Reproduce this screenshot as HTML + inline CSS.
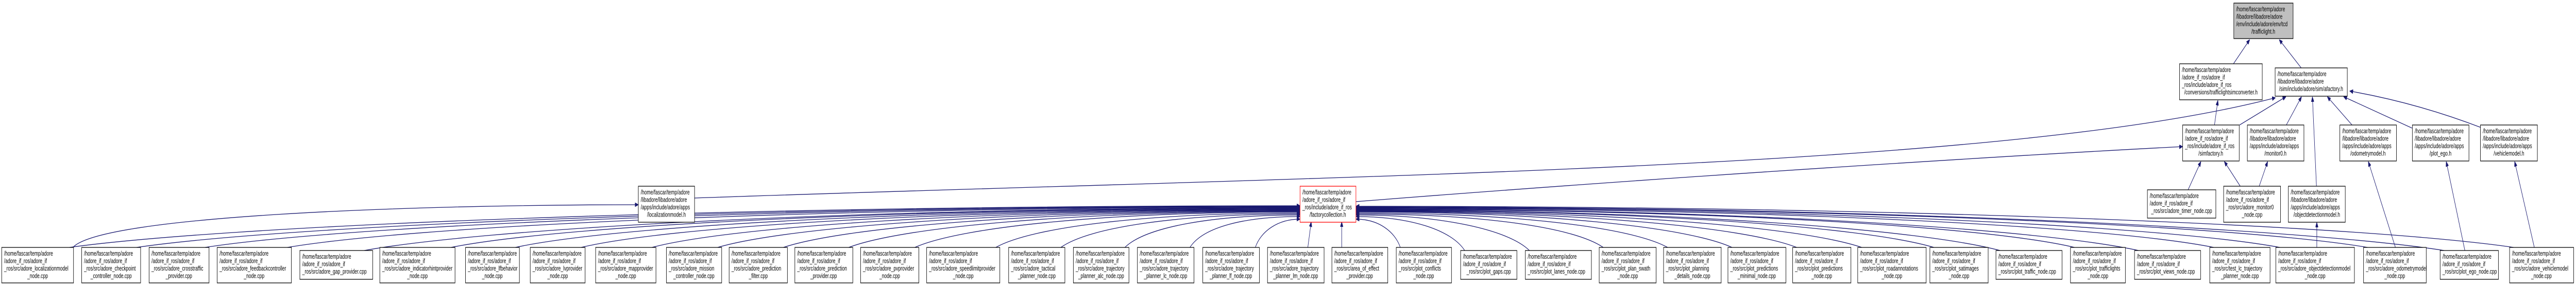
<!DOCTYPE html>
<html><head><meta charset="utf-8"><style>
html,body{margin:0;padding:0;background:#fff;overflow:hidden;width:100%;height:100%;}
svg{display:block;width:100vw;height:100vh;}
text{font-family:"Liberation Sans",Arial,sans-serif;font-size:13px;fill:#000;}
.b{fill:#fff;stroke:#000;stroke-width:1.3;}
.e{fill:none;stroke:#191970;stroke-width:1.3;}
</style></head><body>
<svg viewBox="0 0 7603 556" preserveAspectRatio="none" xmlns="http://www.w3.org/2000/svg">
<defs><marker id="a" viewBox="0 0 10 8" refX="10" refY="4" markerWidth="10" markerHeight="8" markerUnits="userSpaceOnUse" orient="auto"><path d="M0,0 L10,4 L0,8 z" fill="#191970" stroke="#191970"/></marker></defs>
<g class="e" marker-end="url(#a)">
<path d="M205,481 C641,441 2021,400 3837,400"/>
<path d="M403,481 C815,441 2120,401 3837,401"/>
<path d="M605,481 C993,441 2221,402 3837,402"/>
<path d="M848,481 C1207,441 2343,403 3837,403"/>
<path d="M1075,487 C1406,447 2456,404 3837,404"/>
<path d="M1331,481 C1632,441 2584,405 3837,405"/>
<path d="M1521,481 C1799,441 2679,406 3837,406"/>
<path d="M1715,481 C1970,441 2776,407 3837,407"/>
<path d="M1924,481 C2154,441 2880,408 3837,408"/>
<path d="M2118,481 C2324,441 2978,409 3837,409"/>
<path d="M2312,481 C2495,441 3075,410 3837,410"/>
<path d="M2505,481 C2665,441 3171,411 3837,411"/>
<path d="M2700,481 C2836,441 3269,412 3837,412"/>
<path d="M2939,481 C3047,441 3388,414 3837,414"/>
<path d="M3131,481 C3216,441 3484,416 3837,416"/>
<path d="M3320,481 C3382,441 3579,418 3837,418"/>
<path d="M3512,481 C3551,441 3675,421 3837,421"/>
<path d="M3705,481 C3721,450 3771,426 3837,426"/>
<path d="M3860,481 L3870,431"/>
<path d="M3960,481 L3960,431"/>
<path d="M4133,481 C4117,450 4068,426 4002,426"/>
<path d="M4323,487 C4284,447 4162,421 4002,421"/>
<path d="M4514,487 C4453,447 4258,418 4002,418"/>
<path d="M4732,481 C4644,441 4367,416 4002,416"/>
<path d="M4922,481 C4812,441 4462,414 4002,414"/>
<path d="M5112,481 C4979,441 4557,412 4002,412"/>
<path d="M5303,481 C5147,441 4652,411 4002,411"/>
<path d="M5495,481 C5316,441 4748,410 4002,410"/>
<path d="M5708,481 C5503,441 4855,409 4002,409"/>
<path d="M5903,487 C5675,447 4952,408 4002,408"/>
<path d="M6123,481 C5868,441 5062,407 4002,407"/>
<path d="M6312,487 C6035,447 5157,406 4002,406"/>
<path d="M6534,481 C6230,441 5268,405 4002,405"/>
<path d="M6729,481 C6402,441 5365,404 4002,404"/>
<path d="M6988,481 C6630,441 5495,403 4002,403"/>
<path d="M7214,487 C6829,447 5608,402 4002,402"/>
<path d="M7419,481 C7009,441 5710,401 4002,401"/>
<path d="M215,481 C300,420 1200,398 1884,398"/>
<path d="M2050,385 C4000,340 5900,330 6716,190"/>
<path d="M4002,392 C5000,340 6000,300 6442,285"/>
<path d="M6592,124 L6640,77"/>
<path d="M6792,132 L6727,77"/>
<path d="M6536,243 L6546,195"/>
<path d="M6610,243 L6747,188"/>
<path d="M6748,243 L6793,188"/>
<path d="M6837,362 L6825,188"/>
<path d="M6942,243 L6869,188"/>
<path d="M7119,249 L6917,188"/>
<path d="M7323,248 Q7133,200 6935,177"/>
<path d="M6458,369 L6496,314"/>
<path d="M6612,362 L6565,314"/>
<path d="M6668,362 L6693,314"/>
<path d="M6838,481 L6838,432"/>
<path d="M7070,481 L6990,314"/>
<path d="M7275,487 L7220,314"/>
<path d="M7480,481 L7422,314"/>
</g>

<rect x="6593" y="6" width="175" height="69" style="fill:#bfbfbf;stroke:#000;stroke-width:1.3"/>
<text x="6600" y="22">/home/fascar/temp/adore</text><text x="6600" y="36.5">/libadore/libadore/adore</text><text x="6600" y="51">/env/include/adore/env/tcd</text><text x="6680" y="65.5" text-anchor="middle">/trafficlight.h</text>

<rect class="b" x="6433" y="124" width="244" height="70"/>
<text x="6440" y="140">/home/fascar/temp/adore</text><text x="6440" y="154.5">/adore_if_ros/adore_if</text><text x="6440" y="169">_ros/include/adore_if_ros</text><text x="6555" y="183.5" text-anchor="middle">/conversions/trafficlightsimconverter.h</text>

<rect class="b" x="6715" y="132" width="213" height="55"/>
<text x="6722" y="148">/home/fascar/temp/adore</text><text x="6722" y="162.5">/libadore/libadore/adore</text><text x="6821" y="177" text-anchor="middle">/sim/include/adore/sim/afactory.h</text>

<rect class="b" x="6442" y="243" width="167" height="70"/>
<text x="6449" y="259">/home/fascar/temp/adore</text><text x="6449" y="273.5">/adore_if_ros/adore_if</text><text x="6449" y="288">_ros/include/adore_if_ros</text><text x="6525" y="302.5" text-anchor="middle">/simfactory.h</text>

<rect class="b" x="6633" y="243" width="167" height="70"/>
<text x="6640" y="259">/home/fascar/temp/adore</text><text x="6640" y="273.5">/libadore/libadore/adore</text><text x="6640" y="288">/apps/include/adore/apps</text><text x="6716" y="302.5" text-anchor="middle">/monitor0.h</text>

<rect class="b" x="6906" y="243" width="167" height="70"/>
<text x="6913" y="259">/home/fascar/temp/adore</text><text x="6913" y="273.5">/libadore/libadore/adore</text><text x="6913" y="288">/apps/include/adore/apps</text><text x="6989" y="302.5" text-anchor="middle">/odometrymodel.h</text>

<rect class="b" x="7120" y="243" width="167" height="70"/>
<text x="7127" y="259">/home/fascar/temp/adore</text><text x="7127" y="273.5">/libadore/libadore/adore</text><text x="7127" y="288">/apps/include/adore/apps</text><text x="7203" y="302.5" text-anchor="middle">/plot_ego.h</text>

<rect class="b" x="7321" y="243" width="168" height="70"/>
<text x="7328" y="259">/home/fascar/temp/adore</text><text x="7328" y="273.5">/libadore/libadore/adore</text><text x="7328" y="288">/apps/include/adore/apps</text><text x="7405" y="302.5" text-anchor="middle">/vehiclemodel.h</text>

<rect class="b" x="6338" y="369" width="202" height="55"/>
<text x="6345" y="385">/home/fascar/temp/adore</text><text x="6345" y="399.5">/adore_if_ros/adore_if</text><text x="6439" y="414" text-anchor="middle">_ros/src/adore_timer_node.cpp</text>

<rect class="b" x="6563" y="362" width="168" height="70"/>
<text x="6570" y="378">/home/fascar/temp/adore</text><text x="6570" y="392.5">/adore_if_ros/adore_if</text><text x="6570" y="407">_ros/src/adore_monitor0</text><text x="6647" y="421.5" text-anchor="middle">_node.cpp</text>

<rect class="b" x="6754" y="362" width="168" height="70"/>
<text x="6761" y="378">/home/fascar/temp/adore</text><text x="6761" y="392.5">/libadore/libadore/adore</text><text x="6761" y="407">/apps/include/adore/apps</text><text x="6838" y="421.5" text-anchor="middle">/objectdetectionmodel.h</text>

<rect class="b" x="1884" y="362" width="166" height="70"/>
<text x="1891" y="378">/home/fascar/temp/adore</text><text x="1891" y="392.5">/libadore/libadore/adore</text><text x="1891" y="407">/apps/include/adore/apps</text><text x="1967" y="421.5" text-anchor="middle">/localizationmodel.h</text>

<rect x="3837" y="362" width="165" height="70" style="fill:#fff;stroke:#ff0000;stroke-width:1.3"/>
<text x="3844" y="378">/home/fascar/temp/adore</text><text x="3844" y="392.5">/adore_if_ros/adore_if</text><text x="3844" y="407">_ros/include/adore_if_ros</text><text x="3919" y="421.5" text-anchor="middle">/factorycollection.h</text>

<g>
<rect class="b" x="5" y="481" width="212" height="69"/><text x="12" y="497">/home/fascar/temp/adore</text><text x="12" y="511.5">/adore_if_ros/adore_if</text><text x="12" y="526">_ros/src/adore_localizationmodel</text><text x="111" y="540.5" text-anchor="middle">_node.cpp</text>
<rect class="b" x="241" y="481" width="174" height="69"/><text x="248" y="497">/home/fascar/temp/adore</text><text x="248" y="511.5">/adore_if_ros/adore_if</text><text x="248" y="526">_ros/src/adore_checkpoint</text><text x="328" y="540.5" text-anchor="middle">_controller_node.cpp</text>
<rect class="b" x="440" y="481" width="177" height="69"/><text x="447" y="497">/home/fascar/temp/adore</text><text x="447" y="511.5">/adore_if_ros/adore_if</text><text x="447" y="526">_ros/src/adore_crosstraffic</text><text x="528" y="540.5" text-anchor="middle">_provider.cpp</text>
<rect class="b" x="641" y="481" width="219" height="69"/><text x="648" y="497">/home/fascar/temp/adore</text><text x="648" y="511.5">/adore_if_ros/adore_if</text><text x="648" y="526">_ros/src/adore_feedbackcontroller</text><text x="750" y="540.5" text-anchor="middle">_node.cpp</text>
<rect class="b" x="885" y="487" width="215" height="56"/><text x="892" y="503">/home/fascar/temp/adore</text><text x="892" y="517.5">/adore_if_ros/adore_if</text><text x="892" y="532">_ros/src/adore_gap_provider.cpp</text>
<rect class="b" x="1121" y="481" width="222" height="69"/><text x="1128" y="497">/home/fascar/temp/adore</text><text x="1128" y="511.5">/adore_if_ros/adore_if</text><text x="1128" y="526">_ros/src/adore_indicatorhintprovider</text><text x="1232" y="540.5" text-anchor="middle">_node.cpp</text>
<rect class="b" x="1374" y="481" width="159" height="69"/><text x="1381" y="497">/home/fascar/temp/adore</text><text x="1381" y="511.5">/adore_if_ros/adore_if</text><text x="1381" y="526">_ros/src/adore_lfbehavior</text><text x="1453" y="540.5" text-anchor="middle">_node.cpp</text>
<rect class="b" x="1565" y="481" width="162" height="69"/><text x="1572" y="497">/home/fascar/temp/adore</text><text x="1572" y="511.5">/adore_if_ros/adore_if</text><text x="1572" y="526">_ros/src/adore_lvprovider</text><text x="1646" y="540.5" text-anchor="middle">_node.cpp</text>
<rect class="b" x="1758" y="481" width="178" height="69"/><text x="1765" y="497">/home/fascar/temp/adore</text><text x="1765" y="511.5">/adore_if_ros/adore_if</text><text x="1765" y="526">_ros/src/adore_mapprovider</text><text x="1847" y="540.5" text-anchor="middle">_node.cpp</text>
<rect class="b" x="1967" y="481" width="163" height="69"/><text x="1974" y="497">/home/fascar/temp/adore</text><text x="1974" y="511.5">/adore_if_ros/adore_if</text><text x="1974" y="526">_ros/src/adore_mission</text><text x="2048" y="540.5" text-anchor="middle">_controller_node.cpp</text>
<rect class="b" x="2152" y="481" width="172" height="69"/><text x="2159" y="497">/home/fascar/temp/adore</text><text x="2159" y="511.5">/adore_if_ros/adore_if</text><text x="2159" y="526">_ros/src/adore_prediction</text><text x="2238" y="540.5" text-anchor="middle">_filter.cpp</text>
<rect class="b" x="2346" y="481" width="171" height="69"/><text x="2353" y="497">/home/fascar/temp/adore</text><text x="2353" y="511.5">/adore_if_ros/adore_if</text><text x="2353" y="526">_ros/src/adore_prediction</text><text x="2431" y="540.5" text-anchor="middle">_provider.cpp</text>
<rect class="b" x="2540" y="481" width="172" height="69"/><text x="2547" y="497">/home/fascar/temp/adore</text><text x="2547" y="511.5">/adore_if_ros/adore_if</text><text x="2547" y="526">_ros/src/adore_pvprovider</text><text x="2626" y="540.5" text-anchor="middle">_node.cpp</text>
<rect class="b" x="2735" y="481" width="216" height="69"/><text x="2742" y="497">/home/fascar/temp/adore</text><text x="2742" y="511.5">/adore_if_ros/adore_if</text><text x="2742" y="526">_ros/src/adore_speedlimitprovider</text><text x="2843" y="540.5" text-anchor="middle">_node.cpp</text>
<rect class="b" x="2977" y="481" width="166" height="69"/><text x="2984" y="497">/home/fascar/temp/adore</text><text x="2984" y="511.5">/adore_if_ros/adore_if</text><text x="2984" y="526">_ros/src/adore_tactical</text><text x="3060" y="540.5" text-anchor="middle">_planner_node.cpp</text>
<rect class="b" x="3168" y="481" width="164" height="69"/><text x="3175" y="497">/home/fascar/temp/adore</text><text x="3175" y="511.5">/adore_if_ros/adore_if</text><text x="3175" y="526">_ros/src/adore_trajectory</text><text x="3250" y="540.5" text-anchor="middle">_planner_alc_node.cpp</text>
<rect class="b" x="3357" y="481" width="167" height="69"/><text x="3364" y="497">/home/fascar/temp/adore</text><text x="3364" y="511.5">/adore_if_ros/adore_if</text><text x="3364" y="526">_ros/src/adore_trajectory</text><text x="3440" y="540.5" text-anchor="middle">_planner_lc_node.cpp</text>
<rect class="b" x="3550" y="481" width="167" height="69"/><text x="3557" y="497">/home/fascar/temp/adore</text><text x="3557" y="511.5">/adore_if_ros/adore_if</text><text x="3557" y="526">_ros/src/adore_trajectory</text><text x="3633" y="540.5" text-anchor="middle">_planner_lf_node.cpp</text>
<rect class="b" x="3741" y="481" width="167" height="69"/><text x="3748" y="497">/home/fascar/temp/adore</text><text x="3748" y="511.5">/adore_if_ros/adore_if</text><text x="3748" y="526">_ros/src/adore_trajectory</text><text x="3824" y="540.5" text-anchor="middle">_planner_lm_node.cpp</text>
<rect class="b" x="3931" y="481" width="165" height="69"/><text x="3938" y="497">/home/fascar/temp/adore</text><text x="3938" y="511.5">/adore_if_ros/adore_if</text><text x="3938" y="526">_ros/src/area_of_effect</text><text x="4013" y="540.5" text-anchor="middle">_provider.cpp</text>
<rect class="b" x="4121" y="481" width="163" height="69"/><text x="4128" y="497">/home/fascar/temp/adore</text><text x="4128" y="511.5">/adore_if_ros/adore_if</text><text x="4128" y="526">_ros/src/plot_conflicts</text><text x="4202" y="540.5" text-anchor="middle">_node.cpp</text>
<rect class="b" x="4311" y="487" width="166" height="56"/><text x="4318" y="503">/home/fascar/temp/adore</text><text x="4318" y="517.5">/adore_if_ros/adore_if</text><text x="4394" y="532" text-anchor="middle">_ros/src/plot_gaps.cpp</text>
<rect class="b" x="4502" y="487" width="195" height="56"/><text x="4509" y="503">/home/fascar/temp/adore</text><text x="4509" y="517.5">/adore_if_ros/adore_if</text><text x="4509" y="532">_ros/src/plot_lanes_node.cpp</text>
<rect class="b" x="4720" y="481" width="168" height="69"/><text x="4727" y="497">/home/fascar/temp/adore</text><text x="4727" y="511.5">/adore_if_ros/adore_if</text><text x="4727" y="526">_ros/src/plot_plan_swath</text><text x="4804" y="540.5" text-anchor="middle">_node.cpp</text>
<rect class="b" x="4910" y="481" width="170" height="69"/><text x="4917" y="497">/home/fascar/temp/adore</text><text x="4917" y="511.5">/adore_if_ros/adore_if</text><text x="4917" y="526">_ros/src/plot_planning</text><text x="4995" y="540.5" text-anchor="middle">_details_node.cpp</text>
<rect class="b" x="5100" y="481" width="171" height="69"/><text x="5107" y="497">/home/fascar/temp/adore</text><text x="5107" y="511.5">/adore_if_ros/adore_if</text><text x="5107" y="526">_ros/src/plot_predictions</text><text x="5185" y="540.5" text-anchor="middle">_minimal_node.cpp</text>
<rect class="b" x="5291" y="481" width="172" height="69"/><text x="5298" y="497">/home/fascar/temp/adore</text><text x="5298" y="511.5">/adore_if_ros/adore_if</text><text x="5298" y="526">_ros/src/plot_predictions</text><text x="5377" y="540.5" text-anchor="middle">_node.cpp</text>
<rect class="b" x="5483" y="481" width="202" height="69"/><text x="5490" y="497">/home/fascar/temp/adore</text><text x="5490" y="511.5">/adore_if_ros/adore_if</text><text x="5490" y="526">_ros/src/plot_roadannotations</text><text x="5584" y="540.5" text-anchor="middle">_node.cpp</text>
<rect class="b" x="5696" y="481" width="172" height="69"/><text x="5703" y="497">/home/fascar/temp/adore</text><text x="5703" y="511.5">/adore_if_ros/adore_if</text><text x="5703" y="526">_ros/src/plot_satimages</text><text x="5782" y="540.5" text-anchor="middle">_node.cpp</text>
<rect class="b" x="5891" y="487" width="195" height="56"/><text x="5898" y="503">/home/fascar/temp/adore</text><text x="5898" y="517.5">/adore_if_ros/adore_if</text><text x="5898" y="532">_ros/src/plot_traffic_node.cpp</text>
<rect class="b" x="6111" y="481" width="162" height="69"/><text x="6118" y="497">/home/fascar/temp/adore</text><text x="6118" y="511.5">/adore_if_ros/adore_if</text><text x="6118" y="526">_ros/src/plot_trafficlights</text><text x="6192" y="540.5" text-anchor="middle">_node.cpp</text>
<rect class="b" x="6300" y="487" width="195" height="56"/><text x="6307" y="503">/home/fascar/temp/adore</text><text x="6307" y="517.5">/adore_if_ros/adore_if</text><text x="6307" y="532">_ros/src/plot_views_node.cpp</text>
<rect class="b" x="6522" y="481" width="178" height="69"/><text x="6529" y="497">/home/fascar/temp/adore</text><text x="6529" y="511.5">/adore_if_ros/adore_if</text><text x="6529" y="526">_ros/src/test_lc_trajectory</text><text x="6611" y="540.5" text-anchor="middle">_planner_node.cpp</text>
<rect class="b" x="6717" y="481" width="232" height="69"/><text x="6724" y="497">/home/fascar/temp/adore</text><text x="6724" y="511.5">/adore_if_ros/adore_if</text><text x="6724" y="526">_ros/src/adore_objectdetectionmodel</text><text x="6833" y="540.5" text-anchor="middle">_node.cpp</text>
<rect class="b" x="6976" y="481" width="185" height="69"/><text x="6983" y="497">/home/fascar/temp/adore</text><text x="6983" y="511.5">/adore_if_ros/adore_if</text><text x="6983" y="526">_ros/src/adore_odometrymodel</text><text x="7068" y="540.5" text-anchor="middle">_node.cpp</text>
<rect class="b" x="7202" y="487" width="172" height="56"/><text x="7209" y="503">/home/fascar/temp/adore</text><text x="7209" y="517.5">/adore_if_ros/adore_if</text><text x="7209" y="532">_ros/src/plot_ego_node.cpp</text>
<rect class="b" x="7407" y="481" width="189" height="69"/><text x="7414" y="497">/home/fascar/temp/adore</text><text x="7414" y="511.5">/adore_if_ros/adore_if</text><text x="7414" y="526">_ros/src/adore_vehiclemodel</text><text x="7501" y="540.5" text-anchor="middle">_node.cpp</text>
</g>
</svg>
</body></html>
